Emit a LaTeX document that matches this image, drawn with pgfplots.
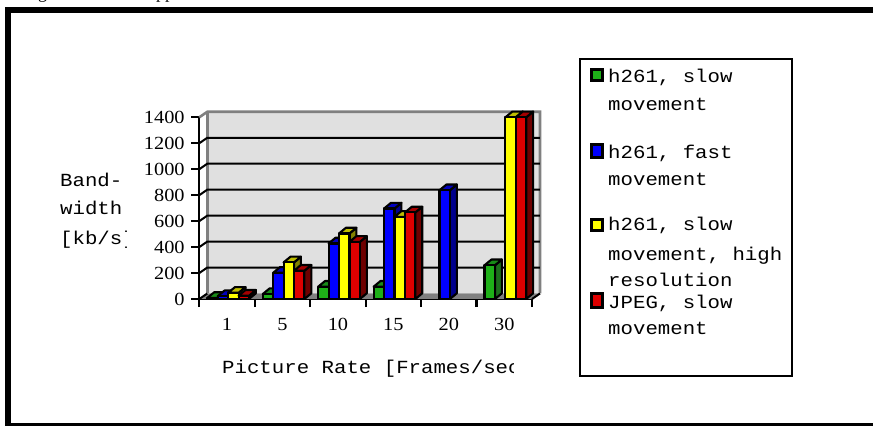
\documentclass[border=0pt]{standalone}
\usepackage{fontspec}
\setmainfont{Liberation Serif}
\newfontfamily\monolabel[FakeStretch=1.12]{Liberation Mono}
\newfontfamily\ticklabel[FakeStretch=1.1]{Liberation Serif}
\usepackage{pgfplots}
\pgfplotsset{compat=1.18}

\definecolor{wallgrey}{RGB}{224,224,224}
\definecolor{edgegrey}{RGB}{128,128,128}
\definecolor{gfront}{RGB}{30,176,24}\definecolor{gside}{RGB}{28,110,28}\definecolor{gtop}{RGB}{24,140,24}
\definecolor{bfront}{RGB}{0,0,255}\definecolor{bside}{RGB}{0,0,140}\definecolor{btop}{RGB}{0,0,190}
\definecolor{yfront}{RGB}{255,255,0}\definecolor{yside}{RGB}{130,130,0}\definecolor{ytop}{RGB}{190,190,0}
\definecolor{rfront}{RGB}{222,0,0}\definecolor{rside}{RGB}{110,0,0}\definecolor{rtop}{RGB}{165,0,0}

% Depth of the box: the back wall is offset by these amounts in axis units
\def\wdx{0.144}\def\wdy{42.4}
% One extruded bar: #1 group, #2 slot in group, #3 value, #4 colour prefix
\newcommand{\threedbar}[4]{%
  \pgfmathsetmacro{\xa}{#1+0.144+#2*0.188}%
  \pgfmathsetmacro{\xb}{\xa+0.188}%
  \pgfmathsetmacro{\xc}{\xa+0.125}%
  \pgfmathsetmacro{\xd}{\xb+0.125}%
  \pgfmathsetmacro{\ya}{#3+44}%
  \pgfmathsetmacro{\yb}{44}%
  \addplot[draw=black,line width=2.1pt,line join=round,fill=#4side]
    coordinates {(\xb,0) (\xd,\yb) (\xd,\ya) (\xb,#3)} --cycle;
  \addplot[draw=black,line width=2.1pt,line join=round,fill=#4top]
    coordinates {(\xa,#3) (\xb,#3) (\xd,\ya) (\xc,\ya)} --cycle;
  \addplot[draw=black,line width=2.1pt,line join=round,fill=#4front]
    coordinates {(\xa,0) (\xb,0) (\xb,#3) (\xa,#3)} --cycle;
}
% Horizontal grid line on the back wall with its run along the side wall
\newcommand{\wallgrid}[1]{%
  \pgfmathsetmacro{\yw}{#1+\wdy}%
  \addplot[black,line width=2pt] coordinates {(0,#1) (\wdx,\yw) (6+\wdx,\yw)};
}

\begin{document}
\begin{tikzpicture}[x=1pt,y=1pt]
\path[use as bounding box] (0,0) rectangle (873,426);

% Page furniture: caption line cut by the top edge and the heavy frame
\begin{scope}
  \clip (0,0) rectangle (873,426);
  \node[anchor=base west,inner sep=0pt,font=\fontsize{18}{18}\selectfont] at (23,427) {Figure};
  \node[anchor=base west,inner sep=0pt,font=\fontsize{18}{18}\selectfont] at (156,427) {pp};
  \fill[black] (5,426-6.7) rectangle (873,426-12.7);
  \fill[black] (5,426-6.7) rectangle (11,0);
  \fill[black] (5,0) rectangle (873,3.3);
\end{scope}

\begin{axis}[
  at={(199.3pt,127pt)},anchor=south west,
  scale only axis,width=332.7pt,height=181.7pt,
  xmin=0,xmax=6,ymin=0,ymax=1400,
  clip=false,
  axis x line*=bottom,axis y line*=left,
  axis line style={line width=2.2pt,-},
  tick style={black,line width=2.1pt},
  tick align=outside,
  major tick length=8pt,
  xtick={0,1,2,3,4,5,6},
  xticklabels={1,5,10,15,20,30},
  x tick label as interval,
  ytick={0,200,400,600,800,1000,1200,1400},
  /pgf/number format/assume math mode=true,
  /pgf/number format/1000 sep={},
  tick label style={font=\ticklabel\fontsize{18.5}{18.5}\selectfont,inner sep=0pt},
  yticklabel style={anchor=east,xshift=-6.5pt},
  xticklabel style={anchor=base,yshift=-23.5pt},
]
% Back wall, side wall and floor
\addplot[draw=none,fill=wallgrey] coordinates {(\wdx,\wdy) (6+\wdx,\wdy) (6+\wdx,1400+\wdy) (\wdx,1400+\wdy)} --cycle;
\addplot[draw=none,fill=edgegrey] coordinates {(0,0) (6,0) (6+\wdx,\wdy) (\wdx,\wdy)} --cycle;
\addplot[edgegrey,line width=2.6pt] coordinates {(0,1400) (\wdx,1400+\wdy) (6+\wdx,1400+\wdy) (6+\wdx,\wdy)};
\addplot[edgegrey,line width=2.6pt] coordinates {(\wdx,\wdy) (\wdx,1400+\wdy)};
\wallgrid{200}\wallgrid{400}\wallgrid{600}\wallgrid{800}\wallgrid{1000}\wallgrid{1200}
\addplot[black,line width=2pt] coordinates {(0,0) (\wdx,\wdy)};
\addplot[black,line width=2pt] coordinates {(6,0) (6+\wdx,\wdy)};

% Picture rate 1
\threedbar{0}{0}{8}{g}\threedbar{0}{1}{22}{b}\threedbar{0}{2}{48}{y}\threedbar{0}{3}{25}{r}
% Picture rate 5
\threedbar{1}{0}{38}{g}\threedbar{1}{1}{202}{b}\threedbar{1}{2}{282}{y}\threedbar{1}{3}{218}{r}
% Picture rate 10
\threedbar{2}{0}{95}{g}\threedbar{2}{1}{428}{b}\threedbar{2}{2}{505}{y}\threedbar{2}{3}{440}{r}
% Picture rate 15
\threedbar{3}{0}{95}{g}\threedbar{3}{1}{697}{b}\threedbar{3}{2}{633}{y}\threedbar{3}{3}{667}{r}
% Picture rate 20
\threedbar{4}{1}{838}{b}
% Picture rate 30
\threedbar{5}{0}{260}{g}\threedbar{5}{2}{1400}{y}\threedbar{5}{3}{1400}{r}
\end{axis}

% Axis titles, cut off by their frames
\begin{scope}[every node/.style={anchor=base west,inner sep=0pt,font=\monolabel\fontsize{18.5}{18.5}\selectfont}]
  \node at (60,426-186.7) {Band-};
  \node at (60,426-215) {width};
  \begin{scope}
    \clip (55,426-260) rectangle (126,426-225);
    \node at (60,426-245) {[kb/s]};
  \end{scope}
  \begin{scope}
    \clip (215,426-385) rectangle (513,426-355);
    \node at (222,426-373.3) {Picture Rate [Frames/sec]};
  \end{scope}

  % Legend box
  \draw[black,line width=2pt] (580.3,426-59.3) rectangle (791.7,426-376.3);
  \node at (608,426-82.3) {h261, slow};
  \node at (608,426-111) {movement};
  \node at (608,426-159) {h261, fast};
  \node at (608,426-186) {movement};
  \node at (608,426-231) {h261, slow};
  \node at (608,426-260.7) {movement, high};
  \node at (608,426-286.7) {resolution};
  \node at (608,426-309) {JPEG, slow};
  \node at (608,426-335) {movement};
\end{scope}
\draw[black,line width=3pt,fill=gfront] (591.5,426-69.8) rectangle (602.5,426-80.8);
\draw[black,line width=3pt,fill=bfront] (591.5,426-144.5) rectangle (602.5,426-157.5);
\draw[black,line width=3pt,fill=yfront] (591.5,426-219.5) rectangle (602.5,426-230.5);
\draw[black,line width=3pt,fill=rfront] (591.5,426-293.5) rectangle (602.5,426-307.5);
\end{tikzpicture}
\end{document}
